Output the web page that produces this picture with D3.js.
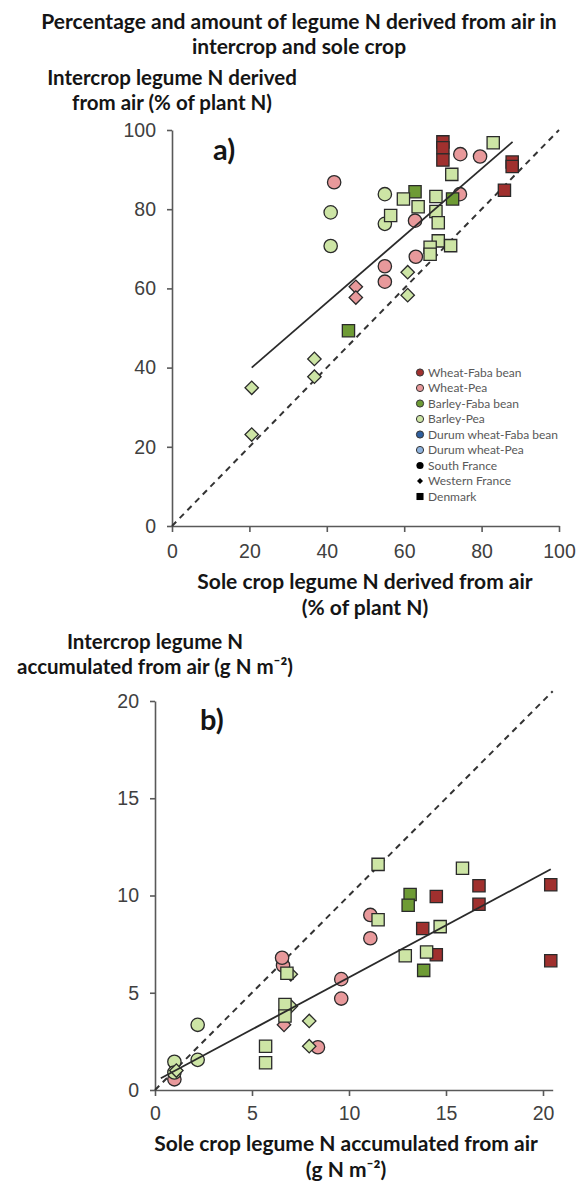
<!DOCTYPE html>
<html>
<head>
<meta charset="utf-8">
<script src="https://cdn.jsdelivr.net/npm/d3@7"></script>
<style>
  body { margin: 0; background: #fff; }
  .ttl { font-family: Lato, "Open Sans", sans-serif; font-weight: bold; fill: #151515; }
  .tick text { font-family: "Liberation Sans", Arial, sans-serif; fill: #404040; }
  .leg { font-family: Lato, sans-serif; fill: #595959; font-size: 12px; }
</style>
</head>
<body>
<div id="chart"></div>
<script>
// legend categories
const treatments = ["Wheat-Faba bean", "Wheat-Pea", "Barley-Faba bean", "Barley-Pea", "Durum wheat-Faba bean", "Durum wheat-Pea"];
const treatmentColors = ["#a0302e", "#e8999b", "#6e9b35", "#cde5a5", "#2f5f9e", "#8fb3de"];
const sites = ["South France", "Western France", "Denmark"];

// panel a: [sole crop %Ndfa, intercrop %Ndfa]
const aWheatFabaDenmark = [[70, 97], [70, 95.5], [70, 92.4], [87.9, 91.9], [87.9, 90.8], [85.9, 84.8]];
const aWheatPeaSouth = [[41.9, 86.8], [74.5, 93.9], [79.6, 93.3], [74.4, 83.8], [62.8, 77.1], [63, 68], [55, 65.6], [55, 61.7]];
const aWheatPeaWest = [[47.5, 60.4], [47.5, 57.7]];
const aBarleyFabaDenmark = [[45.6, 49.3], [62.8, 84.4], [72.5, 82.6]];
const aBarleyPeaSouth = [[41, 79.2], [41, 70.7], [55, 83.8], [55, 76.3]];
const aBarleyPeaWest = [[60.9, 64.1], [60.9, 58.3], [36.8, 42.2], [36.8, 37.7], [20.6, 34.9], [20.6, 23.1]];
const aBarleyPeaDenmark = [[83, 96.8], [72.3, 88.8], [59.8, 82.6], [68.2, 83.2], [63.6, 80.6], [68.2, 79.4], [56.5, 78.4], [68.8, 76.6], [68.8, 72], [66.7, 70.4], [72, 70.8], [66.7, 68.6]];
const aTrend = [[20.6, 40], [88, 97]];
const aOneToOne = [[0, 0], [100, 100]];

// panel b: [sole crop g N m-2, intercrop g N m-2]
const bWheatFabaDenmark = [[16.7, 10.5], [20.4, 10.55], [14.5, 9.95], [16.7, 9.55], [13.8, 8.3], [14.5, 6.95], [20.4, 6.65]];
const bWheatPeaSouth = [[6.6, 6.4], [6.55, 6.8], [11.1, 9.0], [11.1, 7.8], [9.6, 5.7], [9.6, 4.7], [8.4, 2.2], [1.0, 0.55]];
const bWheatPeaWest = [[6.65, 3.35]];
const bBarleyFabaDenmark = [[13.15, 10.05], [13.05, 9.5], [13.85, 6.15]];
const bBarleyPeaSouth = [[2.2, 3.35], [2.2, 1.55], [1.0, 1.45], [1.0, 0.9]];
const bBarleyPeaWest = [[7.0, 5.95], [7.0, 4.3], [7.95, 3.55], [7.95, 2.25], [1.1, 1.0]];
const bBarleyPeaDenmark = [[11.5, 11.6], [15.85, 11.4], [11.5, 8.75], [14.7, 8.4], [12.9, 6.9], [14.0, 7.1], [6.8, 6.0], [6.7, 4.4], [6.7, 3.8], [5.7, 2.25], [5.7, 1.4]];
const bTrend = [[0.3, 0.6], [20.4, 11.35]];
const bOneToOne = [[0, 0], [20.5, 20.5]];

const ticksA = [0, 20, 40, 60, 80, 100];
const ticksB = [0, 5, 10, 15, 20];

const seriesA = [
  { t: 0, s: 2, pts: aWheatFabaDenmark },
  { t: 1, s: 0, pts: aWheatPeaSouth },
  { t: 1, s: 1, pts: aWheatPeaWest },
  { t: 2, s: 2, pts: aBarleyFabaDenmark },
  { t: 3, s: 0, pts: aBarleyPeaSouth },
  { t: 3, s: 1, pts: aBarleyPeaWest },
  { t: 3, s: 2, pts: aBarleyPeaDenmark }
];
const seriesB = [
  { t: 0, s: 2, pts: bWheatFabaDenmark },
  { t: 1, s: 0, pts: bWheatPeaSouth },
  { t: 1, s: 1, pts: bWheatPeaWest },
  { t: 2, s: 2, pts: bBarleyFabaDenmark },
  { t: 3, s: 0, pts: bBarleyPeaSouth },
  { t: 3, s: 1, pts: bBarleyPeaWest },
  { t: 3, s: 2, pts: bBarleyPeaDenmark }
];

const width = 577, height = 1182;
const svg = d3.select("#chart").append("svg")
  .attr("width", width)
  .attr("height", height);

// marker shape per site
const shapeFor = s => {
  if (s === 0) return d3.symbol(d3.symbolCircle, 140)();
  if (s === 1) return d3.symbol(d3.symbolSquare, 90)();
  return d3.symbol(d3.symbolSquare, 150)();
};

function titleLines(lines, x, y0, step, size) {
  lines.forEach((l, i) => {
    svg.append("text")
      .attr("class", "ttl")
      .attr("x", x)
      .attr("y", y0 + i * step)
      .attr("text-anchor", "middle")
      .style("font-size", size + "px")
      .text(l);
  });
}

function panel(opt) {
  const x = d3.scaleLinear().domain(opt.xDomain).range(opt.xRange);
  const y = d3.scaleLinear().domain(opt.yDomain).range(opt.yRange);
  const g = svg.append("g");

  const xAxis = d3.axisBottom(x).tickValues(opt.ticks).tickSize(6).tickSizeOuter(0).tickPadding(opt.xPad);
  const yAxis = d3.axisLeft(y).tickValues(opt.ticks).tickSize(5).tickSizeOuter(0).tickPadding(11);

  g.append("g")
    .attr("transform", `translate(0,${opt.yRange[0]})`)
    .call(xAxis);
  g.append("g")
    .attr("transform", `translate(${opt.xRange[0]},0)`)
    .call(yAxis);
  g.selectAll(".domain, .tick line").attr("stroke", "#595959").attr("stroke-width", 1.6);
  g.selectAll(".tick text").style("font-size", "19.5px");

  const line = d3.line().x(d => x(d[0])).y(d => y(d[1]));
  g.append("path")
    .attr("d", line(opt.oneToOne))
    .attr("fill", "none")
    .attr("stroke", "#333")
    .attr("stroke-width", 2)
    .attr("stroke-dasharray", "6,5");

  opt.series.forEach(ser => {
    g.selectAll(null)
      .data(ser.pts)
      .enter()
      .append("path")
      .attr("d", shapeFor(ser.s))
      .attr("transform", d => `translate(${x(d[0])},${y(d[1])})` + (ser.s === 1 ? " rotate(45)" : ""))
      .attr("fill", treatmentColors[ser.t])
      .attr("stroke", "#2a2a2a")
      .attr("stroke-width", 1.3);
  });

  g.append("path")
    .attr("d", line(opt.trend))
    .attr("fill", "none")
    .attr("stroke", "#2a2a2a")
    .attr("stroke-width", 1.8);

  g.append("text")
    .attr("class", "ttl")
    .attr("x", opt.tag[0])
    .attr("y", opt.tag[1])
    .style("font-size", "29px")
    .text(opt.tagText);

  return { x, y };
}

titleLines(["Percentage and amount of legume N derived from air in", "intercrop and sole crop"], 299, 28.5, 25.5, 21);
titleLines(["Intercrop legume N derived", "from air (% of plant N)"], 172, 85, 25, 20.5);

panel({
  xDomain: [0, 100], xRange: [172, 559],
  yDomain: [0, 100], yRange: [526, 130],
  ticks: ticksA, xPad: 12,
  series: seriesA, trend: aTrend, oneToOne: aOneToOne,
  tag: [213, 160], tagText: "a)"
});

titleLines(["Sole crop legume N derived from air", "(% of plant N)"], 365, 589, 25.5, 21);

// legend
const leg = svg.append("g").attr("transform", "translate(420,372.5)");
const legItems = treatments.map((t, i) => ({ label: t, color: treatmentColors[i], kind: "c" }))
  .concat(sites.map((s, i) => ({ label: s, color: "#000", kind: ["sf", "wf", "dk"][i] })));
legItems.forEach((d, i) => {
  const row = leg.append("g").attr("transform", `translate(0,${i * 15.5})`);
  if (d.kind === "c") {
    row.append("circle").attr("r", 3.6).attr("fill", d.color).attr("stroke", "#333").attr("stroke-width", 1);
  } else if (d.kind === "sf") {
    row.append("circle").attr("r", 3.6).attr("fill", "#000");
  } else if (d.kind === "wf") {
    row.append("path").attr("d", d3.symbol(d3.symbolSquare, 18)()).attr("transform", "rotate(45)").attr("fill", "#000");
  } else {
    row.append("path").attr("d", d3.symbol(d3.symbolSquare, 50)()).attr("fill", "#000");
  }
  row.append("text")
    .attr("class", "leg")
    .attr("x", 8)
    .attr("y", 4.2)
    .text(d.label);
});

titleLines(["Intercrop legume N", "accumulated from air (g N m\u207B\u00B2)"], 155, 649, 25, 20.5);

panel({
  xDomain: [0, 20.5], xRange: [155, 552.7],
  yDomain: [0, 20], yRange: [1090, 701],
  ticks: ticksB, xPad: 10,
  series: seriesB, trend: bTrend, oneToOne: bOneToOne,
  tag: [200, 730], tagText: "b)"
});

titleLines(["Sole crop legume N accumulated from air", "(g N m\u207B\u00B2)"], 346, 1151, 25.5, 21);
</script>
</body>
</html>
